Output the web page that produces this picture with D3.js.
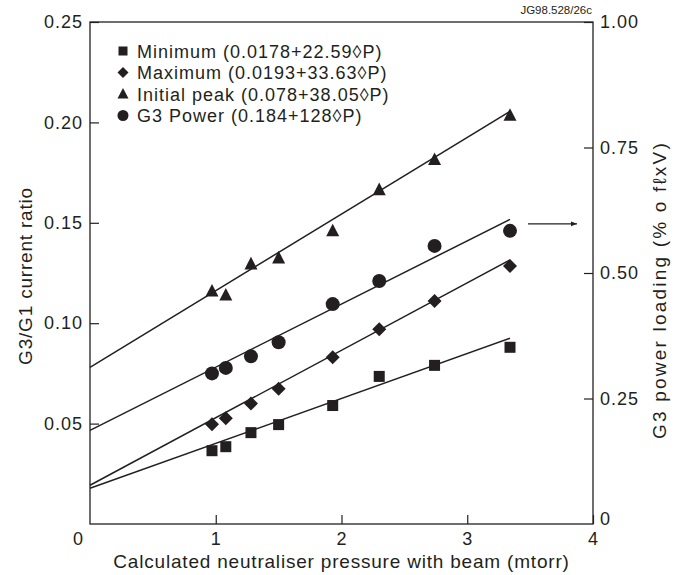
<!DOCTYPE html>
<html><head><meta charset="utf-8">
<script src="https://cdn.jsdelivr.net/npm/d3@7"></script>
<style>body{margin:0;background:#fff}svg{display:block}text{font-family:Arial,"Liberation Sans",Helvetica,sans-serif;fill:#231f20}</style>
</head><body>
<script>
// Data
const pressure = [0.97, 1.08, 1.28, 1.50, 1.93, 2.30, 2.74, 3.34];
const minimum  = [0.0365, 0.0385, 0.0455, 0.0495, 0.059, 0.0735, 0.079, 0.088];
const maximum  = [0.0497, 0.0527, 0.060, 0.0674, 0.083, 0.097, 0.111, 0.1285];
const initialPeak = [0.116, 0.114, 0.1295, 0.1325, 0.146, 0.1665, 0.1815, 0.2035];
const g3Power  = [0.300, 0.311, 0.334, 0.362, 0.438, 0.484, 0.554, 0.584]; // right axis units
const fitX = [0, 3.34];
const fitMinimum = [0.0178, 0.0925];
const fitMaximum = [0.0193, 0.1315];
const fitInitial = [0.078, 0.2055];
const fitPower = [0.0466, 0.1517];
const legendLabels = ["Minimum (0.0178+22.59\u25CAP)", "Maximum (0.0193+33.63\u25CAP)", "Initial peak (0.078+38.05\u25CAP)", "G3 Power (0.184+128\u25CAP)"];
const xTicks = [1, 2, 3, 4];
const yTicks = [0.05, 0.10, 0.15, 0.20, 0.25];
const y2Ticks = [0.25, 0.50, 0.75, 1.00];

const W = 680, H = 575, L = 90, R = 593, T = 22, B = 524;
const ink = "#231f20";
const svg = d3.select("body").append("svg").attr("width", W).attr("height", H);
const x = d3.scaleLinear().domain([0, 4]).range([L, R]);
const y = d3.scaleLinear().domain([0, 0.25]).range([B, T]);
const y2 = d3.scaleLinear().domain([0, 1]).range([B, T]);

// frame
svg.append("rect").attr("x", L).attr("y", T).attr("width", R - L).attr("height", B - T)
  .attr("fill", "none").attr("stroke", ink).attr("stroke-width", 1.3);

const fs = 18, ls = "1px";
// axes
const ax = svg.append("g").attr("transform", `translate(0,${B})`)
  .call(d3.axisBottom(x).tickValues(xTicks).tickSize(-9).tickPadding(8).tickFormat(d3.format("d")));
const ay = svg.append("g").attr("transform", `translate(${L},0)`)
  .call(d3.axisLeft(y).tickValues(yTicks).tickSize(-9).tickPadding(7).tickFormat(d3.format(".2f")));
const ay2 = svg.append("g").attr("transform", `translate(${R},0)`)
  .call(d3.axisRight(y2).tickValues(y2Ticks).tickSize(-9).tickPadding(7).tickFormat(d3.format(".2f")));
[ax, ay, ay2].forEach(g => {
  g.select(".domain").remove();
  g.selectAll(".tick line").attr("stroke", ink).attr("stroke-width", 1.2);
  g.selectAll(".tick text").attr("font-size", fs).attr("fill", ink).style("letter-spacing", ls)
    .style("font-family", "Arial, 'Liberation Sans', sans-serif");
});
// zero labels
svg.append("text").attr("x", 78).attr("y", 545).attr("text-anchor", "middle").attr("font-size", fs).text("0");
svg.append("text").attr("x", 600).attr("y", 525).attr("font-size", fs).text("0");

// titles
const tfs = 19, tls = "0.8px";
svg.append("text").attr("x", (L + R) / 2).attr("y", 568).attr("text-anchor", "middle").attr("font-size", tfs)
  .style("letter-spacing", tls).text("Calculated neutraliser pressure with beam (mtorr)");
svg.append("text").attr("transform", `translate(32,${(T + B) / 2 + 3}) rotate(-90)`).attr("text-anchor", "middle")
  .attr("font-size", tfs).style("letter-spacing", tls).text("G3/G1 current ratio");
svg.append("text").attr("transform", `translate(666,290) rotate(-90)`).attr("text-anchor", "middle")
  .attr("font-size", tfs).style("letter-spacing", "2.2px").text("G3 power loading (% o f\u2113xV)");
svg.append("text").attr("x", 592).attr("y", 14).attr("text-anchor", "end").attr("font-size", 11.5).text("JG98.528/26c");

// fit lines
const line = d3.line();
[[fitMinimum, y], [fitMaximum, y], [fitInitial, y], [fitPower, y]].forEach(([vals, sc]) => {
  svg.append("path").attr("d", line(fitX.map((v, i) => [x(v), sc(vals[i])])))
    .attr("fill", "none").attr("stroke", ink).attr("stroke-width", 1.5);
});

// marker shapes
function marker(g, type, cx, cy, s) {
  if (type === "square") g.append("rect").attr("x", cx - s / 2).attr("y", cy - s / 2).attr("width", s).attr("height", s).attr("fill", ink);
  else if (type === "diamond") g.append("path").attr("d", `M${cx},${cy - s / 2}L${cx + s / 2},${cy}L${cx},${cy + s / 2}L${cx - s / 2},${cy}Z`).attr("fill", ink);
  else if (type === "triangle") g.append("path").attr("d", `M${cx},${cy - s * 0.55}L${cx + s / 2},${cy + s * 0.42}L${cx - s / 2},${cy + s * 0.42}Z`).attr("fill", ink);
  else g.append("circle").attr("cx", cx).attr("cy", cy).attr("r", s / 2).attr("fill", ink);
}
const series = [
  {vals: minimum, sc: y, type: "square", s: 11},
  {vals: maximum, sc: y, type: "diamond", s: 14},
  {vals: initialPeak, sc: y, type: "triangle", s: 13},
  {vals: g3Power, sc: y2, type: "circle", s: 14}
];
const pts = svg.append("g");
series.forEach(se => pressure.forEach((p, i) => marker(pts, se.type, x(p), se.sc(se.vals[i]), se.s)));

// arrow
svg.append("defs").append("marker").attr("id", "ah").attr("viewBox", "0 0 10 10").attr("refX", 10).attr("refY", 5)
  .attr("markerWidth", 6).attr("markerHeight", 6).attr("markerUnits", "userSpaceOnUse").attr("orient", "auto")
  .append("path").attr("d", "M0,1L10,5L0,9Z").attr("fill", ink);
svg.append("line").attr("x1", 528).attr("x2", 577).attr("y1", y2(0.598)).attr("y2", y2(0.598))
  .attr("stroke", ink).attr("stroke-width", 1.2).attr("marker-end", "url(#ah)");

// legend
const lg = svg.append("g");
const ltypes = [["square", 9], ["diamond", 11], ["triangle", 11], ["circle", 11]];
legendLabels.forEach((t, i) => {
  const cy = 51 + i * 21.5;
  marker(lg, ltypes[i][0], 123, cy, ltypes[i][1]);
  lg.append("text").attr("x", 137).attr("y", cy + 6.5).attr("font-size", fs).style("letter-spacing", ls).text(t);
});
</script>
</body></html>
